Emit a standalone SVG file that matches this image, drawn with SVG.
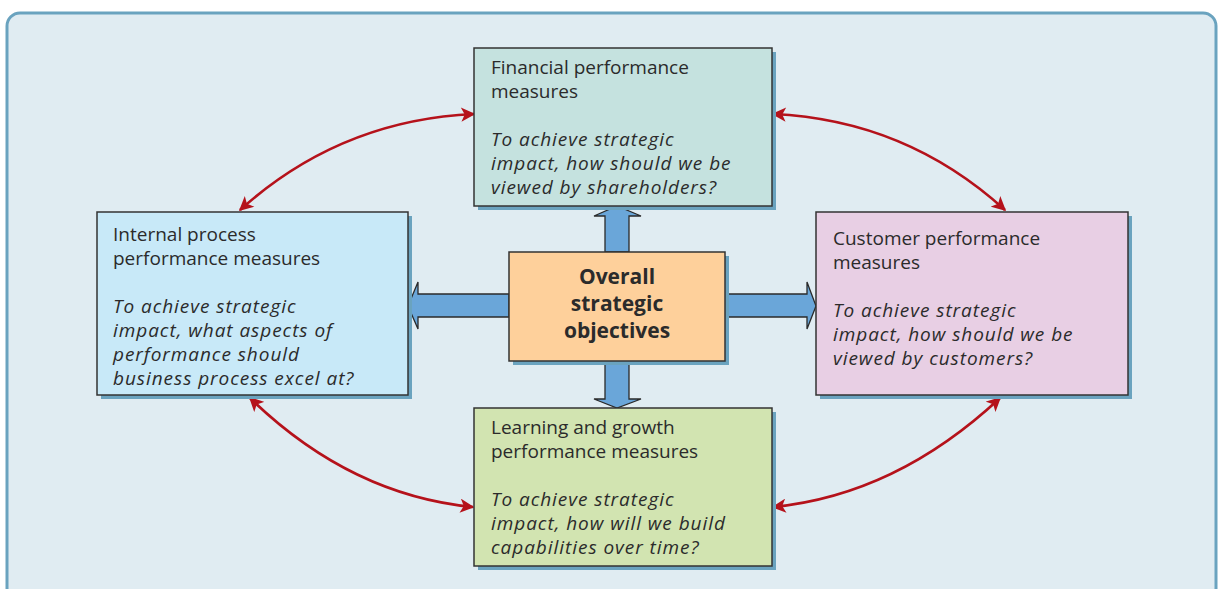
<svg xmlns="http://www.w3.org/2000/svg" width="1219" height="589" viewBox="0 0 1219 589">
<defs>
<marker id="ah" viewBox="0 0 10 10" refX="9" refY="5" markerWidth="6" markerHeight="5.5" orient="auto-start-reverse" markerUnits="strokeWidth">
<path d="M0,0 L10,5 L0,10 L2.5,5 Z" fill="#b5121b"/>
</marker>
<style>
.frame{fill:#e0ecf2;stroke:#6aa3bf;stroke-width:3}
.shadow{fill:#6aa3bf}
.box{stroke:#333;stroke-width:1.5}
.t{font-family:"Open Sans","Noto Sans",sans-serif;font-size:19px;fill:#2b2b2b}
.i{font-style:italic;letter-spacing:0.95px}
.c{font-family:"Open Sans","Noto Sans",sans-serif;font-size:21px;font-weight:bold;fill:#2b2b2b;text-anchor:middle}
.red{fill:none;stroke:#b5121b;stroke-width:2.6;marker-start:url(#ah);marker-end:url(#ah)}
.blue{fill:#6aa6d9;stroke:#2a2a2a;stroke-width:1.3;stroke-linejoin:miter}
</style>
</defs>
<rect class="frame" x="7" y="13" width="1209" height="588" rx="13"/>

<g id="connectors">
<path class="red" d="M474,114 Q340,120 240,210"/>
<path class="red" d="M773,114 Q906,120 1005,210"/>
<path class="red" d="M250,398 Q350,495 473,507"/>
<path class="red" d="M773,507 Q896,495 1000,398"/>
<polygon class="blue" points="605,252 605,216 594,216 617,206 641,216 629,216 629,252"/>
<polygon class="blue" points="605,361 605,399 594,399 617,408 641,399 629,399 629,361"/>
<polygon class="blue" points="509,294 418,294 418,282 408,306 418,329 418,317 509,317"/>
<polygon class="blue" points="725,294 807,294 807,282 816,306 807,329 807,317 725,317"/>
</g>

<g id="financial">
<rect class="shadow" x="478" y="52" width="298" height="158"/>
<rect class="box" x="474" y="48" width="298" height="158" fill="#c5e2df"/>
<text class="t" x="491" y="74">Financial performance</text>
<text class="t" x="491" y="98">measures</text>
<text class="t i" x="491" y="146">To achieve strategic</text>
<text class="t i" x="491" y="170">impact, how should we be</text>
<text class="t i" x="491" y="194">viewed by shareholders?</text>
</g>

<g id="internal">
<rect class="shadow" x="101" y="216" width="311" height="183"/>
<rect class="box" x="97" y="212" width="311" height="183" fill="#c8e9f8"/>
<text class="t" x="113" y="241">Internal process</text>
<text class="t" x="113" y="265">performance measures</text>
<text class="t i" x="113" y="313">To achieve strategic</text>
<text class="t i" x="113" y="337">impact, what aspects of</text>
<text class="t i" x="113" y="361">performance should</text>
<text class="t i" x="113" y="385">business process excel at?</text>
</g>

<g id="center">
<rect class="shadow" x="513" y="256" width="216" height="109"/>
<rect class="box" x="509" y="252" width="216" height="109" fill="#fed09b"/>
<text class="c" x="617" y="284">Overall</text>
<text class="c" x="617" y="311">strategic</text>
<text class="c" x="617" y="338">objectives</text>
</g>

<g id="customer">
<rect class="shadow" x="820" y="216" width="312" height="183"/>
<rect class="box" x="816" y="212" width="312" height="183" fill="#e8cfe4"/>
<text class="t" x="833" y="245">Customer performance</text>
<text class="t" x="833" y="269">measures</text>
<text class="t i" x="833" y="317">To achieve strategic</text>
<text class="t i" x="833" y="341">impact, how should we be</text>
<text class="t i" x="833" y="365">viewed by customers?</text>
</g>

<g id="learning">
<rect class="shadow" x="478" y="412" width="298" height="158"/>
<rect class="box" x="474" y="408" width="298" height="158" fill="#d2e4b1"/>
<text class="t" x="491" y="434">Learning and growth</text>
<text class="t" x="491" y="458">performance measures</text>
<text class="t i" x="491" y="506">To achieve strategic</text>
<text class="t i" x="491" y="530">impact, how will we build</text>
<text class="t i" x="491" y="554">capabilities over time?</text>
</g>
</svg>
